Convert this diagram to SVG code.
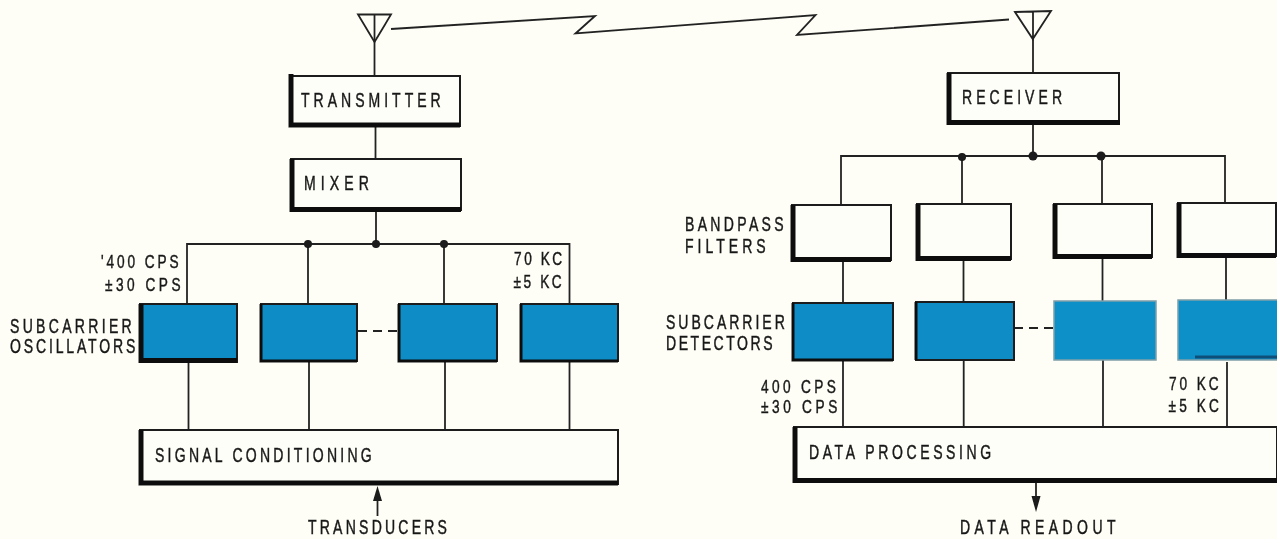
<svg xmlns="http://www.w3.org/2000/svg" width="1277" height="539" viewBox="0 0 1277 539">
<style>
.box{fill:#fefef8;stroke:#1c1c1c;stroke-width:2}
.blue{fill:#0f8cc6;stroke:#1c1c1c;stroke-width:2}
.blue2{fill:#1190c8;stroke:#7f9fa8;stroke-width:1.5}
.heavy{fill:none;stroke:#111;stroke-width:5}
.line{fill:none;stroke:#222;stroke-width:1.800}
.dash{fill:none;stroke:#222;stroke-width:2;stroke-dasharray:9 6}
.dot{fill:#1a1a1a}
text{font-family:"Liberation Sans",Arial,sans-serif;font-size:19.500px;fill:#1a1a1a;stroke:#1a1a1a;stroke-width:.45}
.s{font-size:19px}
</style>
<defs><filter id="soft" x="-2%" y="-2%" width="104%" height="104%"><feGaussianBlur stdDeviation="0.5"/></filter></defs>
<rect width="1277" height="539" fill="#fefef6"/>
<g filter="url(#soft)">
<g id="connectors">
<path class="line" d="M374.500 14V76M391 29L595 16L575.500 33.500L815.500 15L797 35L1009 19.500"/>
<path class="line" d="M375.500 127V159M376 211V244M187 312V244H569.500V304M308 244V304M444 244V304"/>
<path class="line" d="M188.500 362V430M309 362V430M445 362V430M569.500 362V430"/>
<path class="line" d="M377.500 516V495"/>
<polygon class="dot" points="377.500,486 373,501 382,501"/>
<path class="dash" d="M358 331H398M1014 328H1053"/>
<path class="line" d="M1033 39V73M1033 124V156M841 205V156H1225V203M962 156V204M1102 156V204"/>
<path class="line" d="M843 261V303M963.500 260V303M1102.500 258V301M1226 257V300"/>
<path class="line" d="M843 360V427M963.700 360V427M1103 360V427M1227 362V427"/>
<path class="line" d="M1036 483V500"/>
<polygon class="dot" points="1036,512 1031.500,496 1040.500,496"/>
<circle class="dot" cx="308" cy="244" r="4"/><circle class="dot" cx="376" cy="244" r="4"/><circle class="dot" cx="444" cy="244" r="4"/>
<circle class="dot" cx="962" cy="157" r="4"/><circle class="dot" cx="1033" cy="156" r="4.500"/><circle class="dot" cx="1101" cy="156" r="4.500"/>
</g>
<g id="antenna-tx"><path class="line" d="M358 14.500H391L374.500 42Z"/></g>
<g id="antenna-rx"><path class="line" d="M1015 12L1051 11L1032.800 39ZM1033 12V39"/></g>
<g id="transmitter"><rect class="box" x="291" y="76" width="169" height="50"/><path class="heavy" d="M291 74V125H460"/><text transform="translate(301 107) scale(.72 1)" textLength="194">TRANSMITTER</text></g>
<g id="mixer"><rect class="box" x="291" y="159" width="170" height="51"/><path class="heavy" d="M292 159V209.500H461"/><text transform="translate(304 190) scale(.72 1)" textLength="90">MIXER</text></g>
<g id="osc1"><rect class="blue" x="140" y="304" width="97" height="58"/><path class="heavy" d="M141 304V360.500H237"/></g>
<g id="osc2"><rect class="blue" x="261" y="304" width="96" height="57"/><path class="heavy" style="stroke-width:3" d="M261 304V361H357"/></g>
<g id="osc3"><rect class="blue" x="399" y="304" width="98" height="57"/><path class="heavy" style="stroke-width:3" d="M399 304V361H497"/></g>
<g id="osc4"><rect class="blue" x="521" y="304" width="97" height="57"/><path class="heavy" style="stroke-width:3" d="M521 304V361H618"/></g>
<g id="signal-conditioning"><rect class="box" x="140" y="430" width="478" height="54"/><path class="heavy" d="M141 430V483H618"/><text transform="translate(155 462) scale(.72 1)" textLength="301">SIGNAL CONDITIONING</text></g>
<g id="receiver"><rect class="box" x="948" y="73" width="171" height="50"/><path class="heavy" d="M949 73V122.500H1120"/><text transform="translate(962 104) scale(.72 1)" textLength="139">RECEIVER</text></g>
<g id="filter1"><rect class="box" x="792" y="205" width="99" height="55"/><path class="heavy" d="M793 205V259.500H891"/></g>
<g id="filter2"><rect class="box" x="917" y="204" width="94" height="55"/><path class="heavy" d="M918 204V258.500H1011"/></g>
<g id="filter3"><rect class="box" x="1054" y="204" width="98" height="53"/><path class="heavy" d="M1055 204V256.500H1152"/></g>
<g id="filter4"><rect class="box" x="1178" y="203" width="98" height="53"/><path class="heavy" d="M1179 203V255.500H1276"/></g>
<g id="det1"><rect class="blue" x="793" y="303" width="100" height="57"/><path class="heavy" style="stroke-width:3" d="M793 303V360H893"/></g>
<g id="det2"><rect class="blue" x="916" y="302" width="98" height="58"/><path class="heavy" style="stroke-width:3" d="M916 302V360"/></g>
<g id="det3"><rect class="blue2" x="1054" y="301" width="102" height="59"/></g>
<g id="det4"><rect class="blue2" x="1178" y="300" width="100" height="60"/><path class="heavy" style="stroke:#0b4f78;stroke-width:3" d="M1195 357H1277"/></g>
<g id="data-processing"><rect class="box" x="794" y="427" width="483" height="54"/><path class="heavy" d="M795 427V480.500H1277"/><text transform="translate(809 459) scale(.72 1)" textLength="253">DATA PROCESSING</text></g>
<g id="labels">
<text class="s" transform="translate(101 268) scale(.72 1)" textLength="108">'400 CPS</text>
<text class="s" transform="translate(105 291) scale(.72 1)" textLength="105">±30 CPS</text>
<text class="s" transform="translate(514 265) scale(.72 1)" textLength="67">70 KC</text>
<text class="s" transform="translate(513.500 288) scale(.72 1)" textLength="67">±5 KC</text>
<text transform="translate(10 333) scale(.72 1)" textLength="169">SUBCARRIER</text>
<text transform="translate(10 353) scale(.72 1)" textLength="174">OSCILLATORS</text>
<text transform="translate(308 534) scale(.72 1)" textLength="193">TRANSDUCERS</text>
<text transform="translate(685 231) scale(.72 1)" textLength="137">BANDPASS</text>
<text transform="translate(685 253) scale(.72 1)" textLength="112">FILTERS</text>
<text transform="translate(666 329) scale(.72 1)" textLength="165">SUBCARRIER</text>
<text transform="translate(666 350) scale(.72 1)" textLength="148">DETECTORS</text>
<text class="s" transform="translate(761 393) scale(.72 1)" textLength="104">400 CPS</text>
<text class="s" transform="translate(761 413) scale(.72 1)" textLength="106">±30 CPS</text>
<text class="s" transform="translate(1169 390) scale(.72 1)" textLength="69">70 KC</text>
<text class="s" transform="translate(1168.500 412) scale(.72 1)" textLength="70">±5 KC</text>
<text transform="translate(960 534) scale(.72 1)" textLength="216">DATA READOUT</text>
</g>
</g>
</svg>
